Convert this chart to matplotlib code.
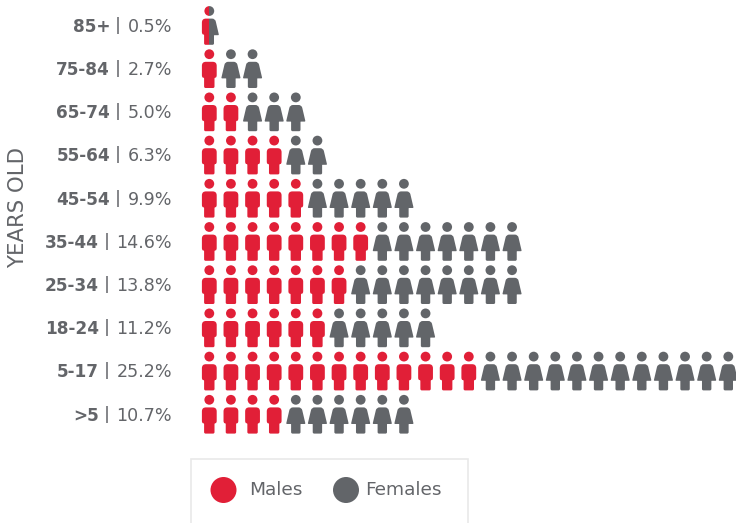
import matplotlib
matplotlib.use("Agg")
import matplotlib.pyplot as plt
from matplotlib.path import Path
from matplotlib.patches import PathPatch, Circle, Rectangle
from matplotlib.transforms import Affine2D

age_groups = ['85+', '75-84', '65-74', '55-64', '45-54', '35-44', '25-34', '18-24', '5-17', '>5']
shares = ['0.5%', '2.7%', '5.0%', '6.3%', '9.9%', '14.6%', '13.8%', '11.2%', '25.2%', '10.7%']
males = [0.5, 1, 2, 4, 5, 8, 7, 6, 13, 4]
females = [0.5, 2, 3, 2, 5, 7, 8, 5, 12, 6]

RED = '#E11F37'
GREY = '#626569'
TEXT = '#636569'
FONT = 'DejaVu Sans'
W, H = 736, 523
DX, DY = 21.625, 43.2
X0, Y0 = 209.3, 11.0

fig = plt.figure(figsize=(W / 100, H / 100), dpi=100)
ax = fig.add_axes([0, 0, 1, 1])
ax.set_xlim(0, W)
ax.set_ylim(H, 0)
ax.axis('off')

M, L, C, Z = Path.MOVETO, Path.LINETO, Path.CURVE3, Path.CLOSEPOLY


def rounded(points):
    """Polygon with rounded corners: points = (x, y, radius)."""
    verts, codes = [], []
    n = len(points)
    for i, (x, y, r) in enumerate(points):
        px, py, _ = points[i - 1]
        nx, ny, _ = points[(i + 1) % n]
        d1 = ((px - x) ** 2 + (py - y) ** 2) ** .5
        d2 = ((nx - x) ** 2 + (ny - y) ** 2) ** .5
        a = (x + (px - x) * min(r / d1, .5), y + (py - y) * min(r / d1, .5))
        b = (x + (nx - x) * min(r / d2, .5), y + (ny - y) * min(r / d2, .5))
        verts.append(a)
        codes.append(M if i == 0 else L)
        verts += [(x, y), b]
        codes += [C, C]
    verts.append(verts[0])
    codes.append(Z)
    return Path(verts, codes)


male_body = rounded([(-7.4, 7.6, 4), (7.4, 7.6, 4), (7.4, 23.4, 2.6), (5.2, 23.4, 1), (5.2, 33.8, 1.5),
                     (-5.2, 33.8, 1.5), (-5.2, 23.4, 1), (-7.4, 23.4, 2.6)])
female_body = rounded([(-5.8, 7.6, 3), (5.8, 7.6, 3), (9.7, 24.2, 1), (4.7, 24.2, .4), (4.7, 33.8, 1.5),
                       (-4.7, 33.8, 1.5), (-4.7, 24.2, .4), (-9.7, 24.2, 1)])


def icon(x, y, body, color, clip=None):
    tr = Affine2D().translate(x, y) + ax.transData
    parts = [PathPatch(body, fc=color, ec='none', transform=tr),
             Circle((x, y), 4.9, fc=color, ec='none')]
    for p in parts:
        ax.add_patch(p)
        if clip is not None:
            p.set_clip_path(clip)


for r, (g, s, m, f) in enumerate(zip(age_groups, shares, males, females)):
    y = Y0 + r * DY
    if m < 1:
        left = Rectangle((X0 - 12, y - 8), 12, 46, transform=ax.transData)
        right = Rectangle((X0, y - 8), 12, 46, transform=ax.transData)
        icon(X0, y, male_body, RED, clip=left)
        icon(X0, y, female_body, GREY, clip=right)
    else:
        for i in range(m):
            icon(X0 + i * DX, y, male_body, RED)
        for i in range(m, m + f):
            icon(X0 + i * DX, y, female_body, GREY)

fig.canvas.draw()
rend = fig.canvas.get_renderer()
for r, (g, s) in enumerate(zip(age_groups, shares)):
    y = Y0 + r * DY + 20.8
    t = ax.text(172, y, s, ha='right', va='baseline', fontsize=12.6, color=TEXT, family=FONT)
    w = t.get_window_extent(rend).width
    ax.plot([172 - w - 9.5] * 2, [y - 15, y + 2], color=TEXT, lw=1.1, solid_capstyle='butt')
    ax.text(172 - w - 17.5, y, g, ha='right', va='baseline', fontsize=12.2, color=TEXT, family=FONT, fontweight='bold')

ax.text(24, 207, 'YEARS OLD', rotation=90, ha='center', va='baseline', rotation_mode='anchor', fontsize=15.3,
        color=TEXT, family=FONT)

ax.add_patch(Rectangle((191, 458.5), 277, 70, fc='white', ec='#E9E9E9', lw=1.2))
ax.add_patch(Circle((223.5, 490), 13, fc=RED, ec='none'))
ax.add_patch(Circle((346, 490), 13, fc=GREY, ec='none'))
ax.text(249, 495, 'Males', ha='left', va='baseline', fontsize=13.3, color=TEXT, family=FONT)
ax.text(365, 495, 'Females', ha='left', va='baseline', fontsize=13.3, color=TEXT, family=FONT)

fig.savefig('out.png', dpi=100)
